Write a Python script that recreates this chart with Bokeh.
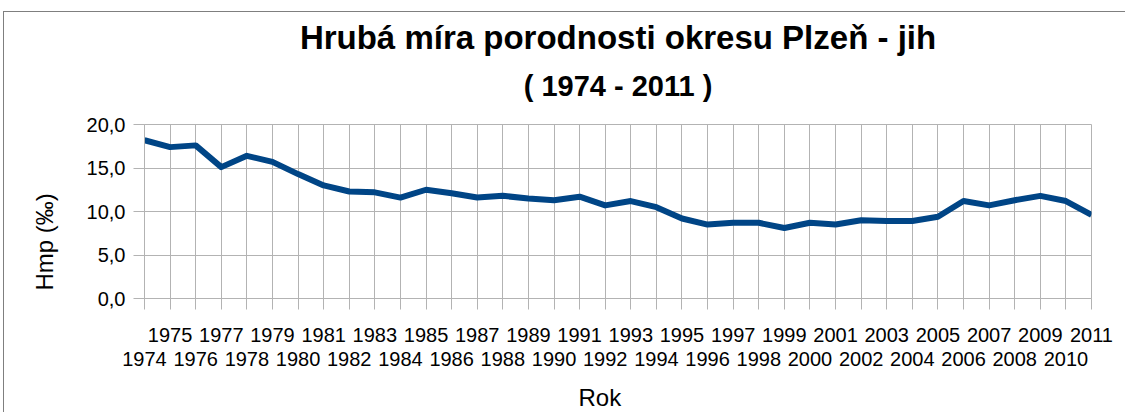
from bokeh.plotting import figure
from bokeh.models import Range1d, FixedTicker, LinearAxis, Title, Grid, ColumnDataSource
from bokeh.embed import file_html
from bokeh.resources import INLINE

# ---- data ----
years = list(range(1974, 2012))
hmp = [18.2, 17.4, 17.6, 15.1, 16.4, 15.7, 14.3, 13.0, 12.3, 12.2,
       11.6, 12.5, 12.1, 11.6, 11.8, 11.5, 11.3, 11.7, 10.7, 11.2,
       10.5, 9.2, 8.5, 8.7, 8.7, 8.1, 8.7, 8.5, 9.0, 8.9,
       8.9, 9.4, 11.2, 10.7, 11.3, 11.8, 11.2, 9.6]
y_ticks = [0, 5, 10, 15, 20]
y_tick_labels = ["0,0", "5,0", "10,0", "15,0", "20,0"]
title_main = "Hrubá míra porodnosti okresu Plzeň - jih"
title_sub = "( 1974 - 2011 )"
x_label = "Rok"
y_label = "Hmp (‰)"

FONT = "Liberation Sans"
GRID = "#b3b3b3"
FRAME = "#7f7f7f"

src = ColumnDataSource(dict(x=years, y=hmp))

p = figure(width=1125, height=412, output_backend="svg", toolbar_location=None,
           x_range=Range1d(min(years), max(years)), y_range=Range1d(0, 20),
           x_axis_type=None, y_axis_type=None, title_location=None,
           min_border_left=144, min_border_right=34, min_border_top=124, min_border_bottom=114)
p.outline_line_color = GRID
p.background_fill_color = "white"
p.border_fill_color = None
p.styles = {
    "background": (f"linear-gradient({FRAME},{FRAME}) 3px 11px / 1px 100% no-repeat, "
                   f"linear-gradient({FRAME},{FRAME}) 3px 11px / 100% 1px no-repeat, white"),
}

xticker = FixedTicker(ticks=years)
yticker = FixedTicker(ticks=y_ticks)
p.add_layout(Grid(dimension=0, ticker=xticker, grid_line_color=GRID))
p.add_layout(Grid(dimension=1, ticker=yticker, grid_line_color=GRID))

common = dict(major_label_text_font=FONT, major_label_text_font_size="20px",
              major_label_text_color="black", minor_tick_line_color=None)

ax1 = LinearAxis(ticker=xticker,
                 major_label_overrides={yr: (str(yr) if yr % 2 else "") for yr in years},
                 major_tick_out=11, major_tick_in=0, axis_line_color=GRID,
                 major_tick_line_color=GRID, major_label_standoff=18, **common)
ax2 = LinearAxis(ticker=xticker,
                 major_label_overrides={yr: ("" if yr % 2 else str(yr)) for yr in years},
                 major_tick_out=0, major_tick_in=0, axis_line_color=None,
                 major_tick_line_color=None, major_label_standoff=7, **common)
p.add_layout(ax1, "below")
p.add_layout(ax2, "below")

yax = LinearAxis(ticker=yticker,
                 major_label_overrides=dict(zip(y_ticks, y_tick_labels)),
                 major_tick_out=11, major_tick_in=0, axis_line_color=GRID,
                 major_tick_line_color=GRID, major_label_standoff=8, **common)
p.add_layout(yax, "left")

spacer = Title(text=" ", align="center", text_font=FONT, text_font_size="10px", standoff=0)
sub = Title(text=title_sub, align="center", text_font=FONT, text_font_size="29px",
            text_font_style="bold", text_color="black", standoff=20)
main = Title(text=title_main, align="center", text_font=FONT, text_font_size="33px",
             text_font_style="bold", text_color="black", standoff=4)
p.add_layout(spacer, "above")
p.add_layout(sub, "above")
p.add_layout(main, "above")

spacer_b = Title(text=" ", align="center", text_font=FONT, text_font_size="10px", standoff=0)
p.add_layout(spacer_b, "below")
xl = Title(text=x_label, align="left", offset=434, text_font=FONT, text_font_size="24px",
           text_font_style="normal", text_color="black", standoff=0)
p.add_layout(xl, "below")
yl = Title(text=y_label, align="left", offset=8, text_font=FONT, text_font_size="24px",
           text_font_style="normal", text_color="black", standoff=52)
p.add_layout(yl, "left")

p.line("x", "y", source=src, line_color="#004586", line_width=6, line_join="round")

open("out.html", "w").write(file_html(p, INLINE))
